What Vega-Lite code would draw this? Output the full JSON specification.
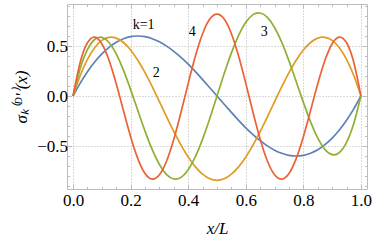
{
  "$schema": "https://vega.github.io/schema/vega-lite/v6.json",
  "autosize": "none",
  "width": 300,
  "height": 185,
  "padding": {"left": 67, "top": 4, "right": 7, "bottom": 51},
  "background": "white",
  "config": {
    "view": {"stroke": "#bcbcbc", "strokeWidth": 1},
    "axis": {"domain": false, "labelFontSize": 17, "titleFontSize": 17, "labelColor": "#000", "titleColor": "#000", "titleFontWeight": "normal", "tickColor": "#bcbcbc", "tickWidth": 1, "gridColor": "#b4b4b4", "gridDash": [1, 2], "gridWidth": 1}
  },
  "datasets": {
    "curves": [
      {"x": 0, "k1": 0, "k2": 0, "k3": 0, "k4": 0},
      {"x": 0.025, "k1": 0.129, "k2": 0.205, "k3": 0.275, "k4": 0.338},
      {"x": 0.05, "k1": 0.243, "k2": 0.366, "k3": 0.463, "k4": 0.532},
      {"x": 0.075, "k1": 0.340, "k2": 0.483, "k3": 0.565, "k4": 0.589},
      {"x": 0.1, "k1": 0.421, "k2": 0.556, "k3": 0.587, "k4": 0.523},
      {"x": 0.125, "k1": 0.487, "k2": 0.587, "k3": 0.535, "k4": 0.357},
      {"x": 0.15, "k1": 0.538, "k2": 0.579, "k3": 0.421, "k4": 0.122},
      {"x": 0.175, "k1": 0.573, "k2": 0.535, "k3": 0.259, "k4": -0.145},
      {"x": 0.2, "k1": 0.594, "k2": 0.460, "k3": 0.064, "k4": -0.407},
      {"x": 0.225, "k1": 0.600, "k2": 0.357, "k3": -0.145, "k4": -0.626},
      {"x": 0.25, "k1": 0.593, "k2": 0.233, "k3": -0.351, "k4": -0.775},
      {"x": 0.275, "k1": 0.573, "k2": 0.093, "k3": -0.536, "k4": -0.832},
      {"x": 0.3, "k1": 0.542, "k2": -0.057, "k3": -0.685, "k4": -0.788},
      {"x": 0.325, "k1": 0.499, "k2": -0.208, "k3": -0.786, "k4": -0.650},
      {"x": 0.35, "k1": 0.447, "k2": -0.355, "k3": -0.830, "k4": -0.433},
      {"x": 0.375, "k1": 0.386, "k2": -0.491, "k3": -0.814, "k4": -0.163},
      {"x": 0.4, "k1": 0.318, "k2": -0.610, "k3": -0.737, "k4": 0.126},
      {"x": 0.425, "k1": 0.243, "k2": -0.709, "k3": -0.607, "k4": 0.399},
      {"x": 0.45, "k1": 0.164, "k2": -0.782, "k3": -0.431, "k4": 0.623},
      {"x": 0.475, "k1": 0.083, "k2": -0.828, "k3": -0.224, "k4": 0.769},
      {"x": 0.5, "k1": 0, "k2": -0.843, "k3": 0, "k4": 0.819},
      {"x": 0.525, "k1": -0.083, "k2": -0.828, "k3": 0.224, "k4": 0.769},
      {"x": 0.55, "k1": -0.164, "k2": -0.782, "k3": 0.431, "k4": 0.623},
      {"x": 0.575, "k1": -0.243, "k2": -0.709, "k3": 0.607, "k4": 0.399},
      {"x": 0.6, "k1": -0.318, "k2": -0.610, "k3": 0.737, "k4": 0.126},
      {"x": 0.625, "k1": -0.386, "k2": -0.491, "k3": 0.814, "k4": -0.163},
      {"x": 0.65, "k1": -0.447, "k2": -0.355, "k3": 0.830, "k4": -0.433},
      {"x": 0.675, "k1": -0.499, "k2": -0.208, "k3": 0.786, "k4": -0.650},
      {"x": 0.7, "k1": -0.542, "k2": -0.057, "k3": 0.685, "k4": -0.788},
      {"x": 0.725, "k1": -0.573, "k2": 0.093, "k3": 0.536, "k4": -0.832},
      {"x": 0.75, "k1": -0.593, "k2": 0.233, "k3": 0.351, "k4": -0.775},
      {"x": 0.775, "k1": -0.600, "k2": 0.357, "k3": 0.145, "k4": -0.626},
      {"x": 0.8, "k1": -0.594, "k2": 0.460, "k3": -0.064, "k4": -0.407},
      {"x": 0.825, "k1": -0.573, "k2": 0.535, "k3": -0.259, "k4": -0.145},
      {"x": 0.85, "k1": -0.538, "k2": 0.579, "k3": -0.421, "k4": 0.122},
      {"x": 0.875, "k1": -0.487, "k2": 0.587, "k3": -0.535, "k4": 0.357},
      {"x": 0.9, "k1": -0.421, "k2": 0.556, "k3": -0.587, "k4": 0.523},
      {"x": 0.925, "k1": -0.340, "k2": 0.483, "k3": -0.565, "k4": 0.589},
      {"x": 0.95, "k1": -0.243, "k2": 0.366, "k3": -0.463, "k4": 0.532},
      {"x": 0.975, "k1": -0.129, "k2": 0.205, "k3": -0.275, "k4": 0.338},
      {"x": 1, "k1": 0, "k2": 0, "k3": 0, "k4": 0}
    ],
    "labels": [
      {"x": 0.245, "y": 0.71, "lab": "k=1"},
      {"x": 0.289, "y": 0.227, "lab": "2"},
      {"x": 0.414, "y": 0.637, "lab": "4"},
      {"x": 0.664, "y": 0.637, "lab": "3"}
    ]
  },
  "layer": [
    {
      "data": {"name": "curves"},
      "transform": [{"fold": ["k1", "k2", "k3", "k4"], "as": ["k", "v"]}],
      "mark": {"type": "line", "interpolate": "natural", "strokeWidth": 1.7, "clip": true},
      "encoding": {
        "x": {"field": "x", "type": "quantitative", "scale": {"domain": [-0.021, 1.021], "nice": false, "zero": false},
          "axis": {"orient": "bottom", "title": "x/L", "titleFont": "Liberation Serif", "titleFontStyle": "italic", "titlePadding": 12,
            "labelFont": "Liberation Serif", "labelFontSize": 17,
            "values": [0, 0.05, 0.1, 0.15, 0.2, 0.25, 0.3, 0.35, 0.4, 0.45, 0.5, 0.55, 0.6, 0.65, 0.7, 0.75, 0.8, 0.85, 0.9, 0.95, 1],
            "labelExpr": "abs(datum.value*5 - round(datum.value*5)) < 0.001 ? format(datum.value, '.1f') : ''",
            "labelPadding": 8,
            "tickSize": {"condition": {"test": "abs(datum.value*5 - round(datum.value*5)) < 0.001", "value": -4.5}, "value": -2.5},
            "gridOpacity": {"condition": {"test": "abs(datum.value*5 - round(datum.value*5)) < 0.001", "value": 1}, "value": 0}}},
        "y": {"field": "v", "type": "quantitative", "scale": {"domain": [-0.93, 0.92], "nice": false, "zero": false},
          "axis": {"orient": "left", "title": "σₖ⁽ᴰ'⁾(x)", "titleFont": "Liberation Serif", "titleFontStyle": "italic", "titlePadding": 6,
            "labelFont": "Liberation Serif", "labelFontSize": 17,
            "values": [-0.9, -0.8, -0.7, -0.6, -0.5, -0.4, -0.3, -0.2, -0.1, 0, 0.1, 0.2, 0.3, 0.4, 0.5, 0.6, 0.7, 0.8, 0.9],
            "labelExpr": "abs(datum.value*2 - round(datum.value*2)) < 0.001 ? format(datum.value, '.1f') : ''",
            "labelPadding": 4,
            "tickSize": {"condition": {"test": "abs(datum.value*2 - round(datum.value*2)) < 0.001", "value": -4.5}, "value": -2.5},
            "gridOpacity": {"condition": {"test": "abs(datum.value*2 - round(datum.value*2)) < 0.001", "value": 1}, "value": 0}}},
        "color": {"field": "k", "type": "nominal", "legend": null,
          "scale": {"domain": ["k1", "k2", "k3", "k4"], "range": ["#5E81B5", "#E19C24", "#8FB032", "#EB6235"]}}
      }
    },
    {
      "data": {"name": "labels"},
      "mark": {"type": "text", "font": "Liberation Serif", "fontSize": 14, "color": "#000"},
      "encoding": {
        "x": {"field": "x", "type": "quantitative",
          "axis": {"orient": "top", "title": null, "labels": false, "grid": false,
            "values": [0, 0.05, 0.1, 0.15, 0.2, 0.25, 0.3, 0.35, 0.4, 0.45, 0.5, 0.55, 0.6, 0.65, 0.7, 0.75, 0.8, 0.85, 0.9, 0.95, 1],
            "tickSize": {"condition": {"test": "abs(datum.value*5 - round(datum.value*5)) < 0.001", "value": -4.5}, "value": -2.5}}},
        "y": {"field": "y", "type": "quantitative",
          "axis": {"orient": "right", "title": null, "labels": false, "grid": false,
            "values": [-0.9, -0.8, -0.7, -0.6, -0.5, -0.4, -0.3, -0.2, -0.1, 0, 0.1, 0.2, 0.3, 0.4, 0.5, 0.6, 0.7, 0.8, 0.9],
            "tickSize": {"condition": {"test": "abs(datum.value*2 - round(datum.value*2)) < 0.001", "value": -4.5}, "value": -2.5}}},
        "text": {"field": "lab"}
      }
    }
  ],
  "resolve": {"axis": {"x": "independent", "y": "independent"}}
}
